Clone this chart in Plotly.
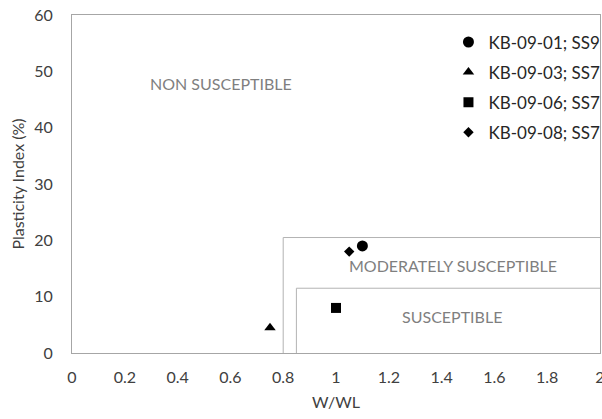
import plotly.graph_objects as go

names = ["KB-09-01; SS9", "KB-09-03; SS7", "KB-09-06; SS7", "KB-09-08; SS7"]
w_wl = [1.10, 0.75, 1.00, 1.05]
pi = [19.0, 4.5, 8.0, 18.0]
symbols = ["circle", "triangle-up", "square", "diamond"]
sizes = [11, 10, 10, 8]

# zone boundaries
mod_x0, mod_y1 = 0.80, 20.5
sus_x0, sus_y1 = 0.85, 11.5
zone_labels = ["NON SUSCEPTIBLE", "MODERATELY SUSCEPTIBLE", "SUSCEPTIBLE"]
zone_pos = [(0.565, 47.8), (1.445, 15.6), (1.44, 6.5)]

x_ticks = [0, 0.2, 0.4, 0.6, 0.8, 1, 1.2, 1.4, 1.6, 1.8, 2]
x_ticktext = ["0", "0.2", "0.4", "0.6", "0.8", "1", "1.2", "1.4", "1.6", "1.8", "2"]
y_ticks = [0, 10, 20, 30, 40, 50, 60]

FONT = "Lato"
fig = go.Figure()
for i, n in enumerate(names):
    fig.add_trace(go.Scatter(
        x=[w_wl[i]], y=[pi[i]], mode="markers", name=n, legendgroup=n,
        marker=dict(symbol=symbols[i], size=sizes[i], color="black"),
    ))

# zone rectangles
fig.add_shape(type="path", xref="x", yref="y",
              path=f"M {mod_x0} 0 L {mod_x0} {mod_y1} L 2 {mod_y1}",
              line=dict(color="#b3b3b3", width=1))
fig.add_shape(type="path", xref="x", yref="y",
              path=f"M {sus_x0} 0 L {sus_x0} {sus_y1} L 2 {sus_y1}",
              line=dict(color="#b3b3b3", width=1))

for lab, (x, y) in zip(zone_labels, zone_pos):
    fig.add_annotation(x=x, y=y, text=lab, showarrow=False,
                       font=dict(family=FONT, size=16, color="#7f7f7f"))

fig.update_layout(
    width=602, height=419,
    margin=dict(l=72, r=2, t=15, b=66, autoexpand=False),
    paper_bgcolor="white", plot_bgcolor="white",
    font=dict(family=FONT, size=16, color="#404040"),
    showlegend=True,
    legend=dict(x=0.713, y=0.972, xanchor="left", yanchor="top",
                bgcolor="rgba(0,0,0,0)", tracegroupgap=5,
                font=dict(family=FONT, size=17, color="#262626"),
                itemwidth=30),
    xaxis=dict(range=[0, 2], tickvals=x_ticks, ticktext=x_ticktext,
               showgrid=False, zeroline=False, showline=True, mirror=True,
               linecolor="#a6a6a6", linewidth=1, ticks="", ticklabelstandoff=10,
               ticklabeloverflow="allow", automargin=False,
               tickfont=dict(size=16),
               title=dict(text="W/WL", font=dict(family=FONT, size=16), standoff=11)),
    yaxis=dict(range=[0, 60], tickvals=y_ticks,
               showgrid=False, zeroline=False, showline=True, mirror=True,
               linecolor="#a6a6a6", linewidth=1, ticks="", ticklabelstandoff=15,
               automargin=False,
               tickfont=dict(size=16),
               title=dict(text="Plasticity Index (%)", font=dict(family=FONT, size=16), standoff=5)),
)

fig.write_html("out.html")
